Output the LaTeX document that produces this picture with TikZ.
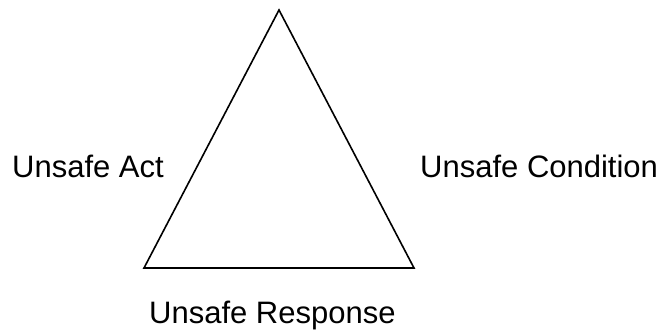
\documentclass[tikz,border=0pt]{standalone}
\usepackage{fontspec}
\setmainfont{Liberation Sans}
\begin{document}
\begin{tikzpicture}[x=1pt,y=-1pt,
  lbl/.style={anchor=base west,inner sep=0pt,font=\fontsize{31}{37}\selectfont},
  tri/.style={draw=black,line width=1.6pt,line join=miter}]
\useasboundingbox (0,0) rectangle (666,331);
\coordinate (top) at (279,10);
\coordinate (bl) at (144,268);
\coordinate (br) at (414,268);
\draw[tri] (top) -- (bl) -- (br) -- cycle;
\node[lbl] (act) at (12,178) {Unsafe Act};
\node[lbl] (cond) at (420,178) {Unsafe Condition};
\node[lbl] (resp) at (149,323) {Unsafe Response};
\end{tikzpicture}
\end{document}
